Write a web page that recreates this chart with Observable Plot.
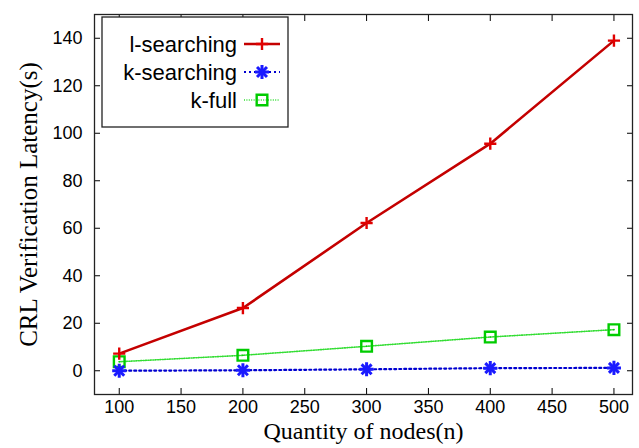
<!DOCTYPE html>
<html><head><meta charset="utf-8">
<script src="https://cdn.jsdelivr.net/npm/d3@7"></script>
<script src="https://cdn.jsdelivr.net/npm/@observablehq/plot@0.6"></script>
<style>body{margin:0;background:#fff}</style>
</head><body><div id="chart"></div>
<script>
const nodes = [100, 200, 300, 400, 500];
const lSearching = [7.2, 26.4, 62.2, 95.6, 139.0];
const kSearching = [0.0, 0.2, 0.6, 1.1, 1.2];
const kFull = [3.8, 6.5, 10.3, 14.2, 17.3];
const xTicks = [100, 150, 200, 250, 300, 350, 400, 450, 500];
const yTicks = [0, 20, 40, 60, 80, 100, 120, 140];
const seriesNames = ["l-searching", "k-searching", "k-full"];
const xTitle = "Quantity of nodes(n)";
const yTitle = "CRL Verification Latency(s)";

const lRows = nodes.map((n, i) => ({n, v: lSearching[i]}));
const ksRows = nodes.map((n, i) => ({n, v: kSearching[i]}));
const kfRows = nodes.map((n, i) => ({n, v: kFull[i]}));

const RED_LINE = "#c40000", RED_MK = "#e00000";
const BLUE = "#0000d0", BLUE_MK = "#1a1aff";
const GREEN = "#33dd33", GREEN_MK = "#00cc00";
const SERIF = "'Liberation Serif', 'Times New Roman', serif";

const chart = Plot.plot({
  width: 639, height: 448,
  marginLeft: 94, marginRight: 7, marginTop: 14, marginBottom: 54,
  x: {domain: [80, 515]},
  y: {domain: [-10, 150]},
  style: {fontFamily: "'Liberation Sans', Arial, sans-serif", fontSize: "18px", color: "#000", background: "#fff"},
  marks: [
    Plot.axisX(xTicks, {anchor: "bottom", tickSize: -6, tickPadding: 12, label: null, fontSize: 18}),
    Plot.axisX(xTicks, {anchor: "top", tickSize: -6, tickFormat: () => "", label: null}),
    Plot.axisY(yTicks, {anchor: "left", tickSize: -6, tickPadding: 18, label: null, fontSize: 18}),
    Plot.axisY(yTicks, {anchor: "right", tickSize: -6, tickFormat: () => "", label: null}),
    Plot.line(kfRows, {x: "n", y: "v", stroke: GREEN, strokeWidth: 1.6, strokeDasharray: "1,1.4"}),
    Plot.line(ksRows, {x: "n", y: "v", stroke: BLUE, strokeWidth: 2.2, strokeDasharray: "2,3"}),
    Plot.line(lRows, {x: "n", y: "v", stroke: RED_LINE, strokeWidth: 2.6}),
    Plot.dot(kfRows, {x: "n", y: "v", symbol: "square", r: 6, stroke: GREEN_MK, strokeWidth: 2.4, fill: "none"}),
    Plot.dot(kfRows, {x: "n", y: "v", r: 0.8, fill: GREEN_MK}),
    Plot.dot(ksRows, {x: "n", y: "v", symbol: "plus", r: 4.6, stroke: BLUE_MK, strokeWidth: 3}),
    Plot.dot(ksRows, {x: "n", y: "v", symbol: "times", r: 4.6, stroke: BLUE_MK, strokeWidth: 3}),
    Plot.dot(lRows, {x: "n", y: "v", symbol: "plus", r: 4, stroke: RED_MK, strokeWidth: 2.4}),
    Plot.frame({stroke: "#222", strokeWidth: 1.3}),
    Plot.text([xTitle], {frameAnchor: "bottom", dy: 44, text: d => d, textAnchor: "middle", fontFamily: SERIF, fontSize: 24, fill: "#000"}),
    Plot.text([yTitle], {frameAnchor: "left", dx: -66, rotate: -90, text: d => d, textAnchor: "middle", fontFamily: SERIF, fontSize: 25, fill: "#000"})
  ]
});
document.getElementById("chart").appendChild(chart);

// Legend
const svg = d3.select(chart);
const lg = svg.append("g").attr("font-family", "'Liberation Sans', Arial, sans-serif").attr("font-size", 22);
lg.append("rect").attr("x", 102).attr("y", 17).attr("width", 186).attr("height", 110)
  .attr("fill", "#fff").attr("stroke", "#222").attr("stroke-width", 1.3);
const items = [
  {name: seriesNames[0], line: RED_LINE, lw: 2.6, dash: null, mk: RED_MK, syms: [[d3.symbolPlus, 4]], sw: 2.4},
  {name: seriesNames[1], line: BLUE, lw: 2.2, dash: "2,3", mk: BLUE_MK, syms: [[d3.symbolPlus, 4.6], [d3.symbolTimes, 4.6]], sw: 3},
  {name: seriesNames[2], line: GREEN, lw: 1.6, dash: "1,1.4", mk: GREEN_MK, syms: [[d3.symbolSquare, 6]], sw: 2.4}
];
items.forEach((it, i) => {
  const y = 44 + i * 28;
  lg.append("text").attr("x", 237).attr("y", y).attr("dy", "0.35em").attr("text-anchor", "end").text(it.name);
  lg.append("line").attr("x1", 244).attr("x2", 280).attr("y1", y).attr("y2", y)
    .attr("stroke", it.line).attr("stroke-width", it.lw).attr("stroke-dasharray", it.dash);
  it.syms.forEach(([type, r]) => {
    lg.append("path").attr("transform", `translate(262,${y})`)
      .attr("d", d3.symbol(type, r * r * Math.PI)())
      .attr("fill", "none").attr("stroke", it.mk).attr("stroke-width", it.sw);
  });
});
</script></body></html>
